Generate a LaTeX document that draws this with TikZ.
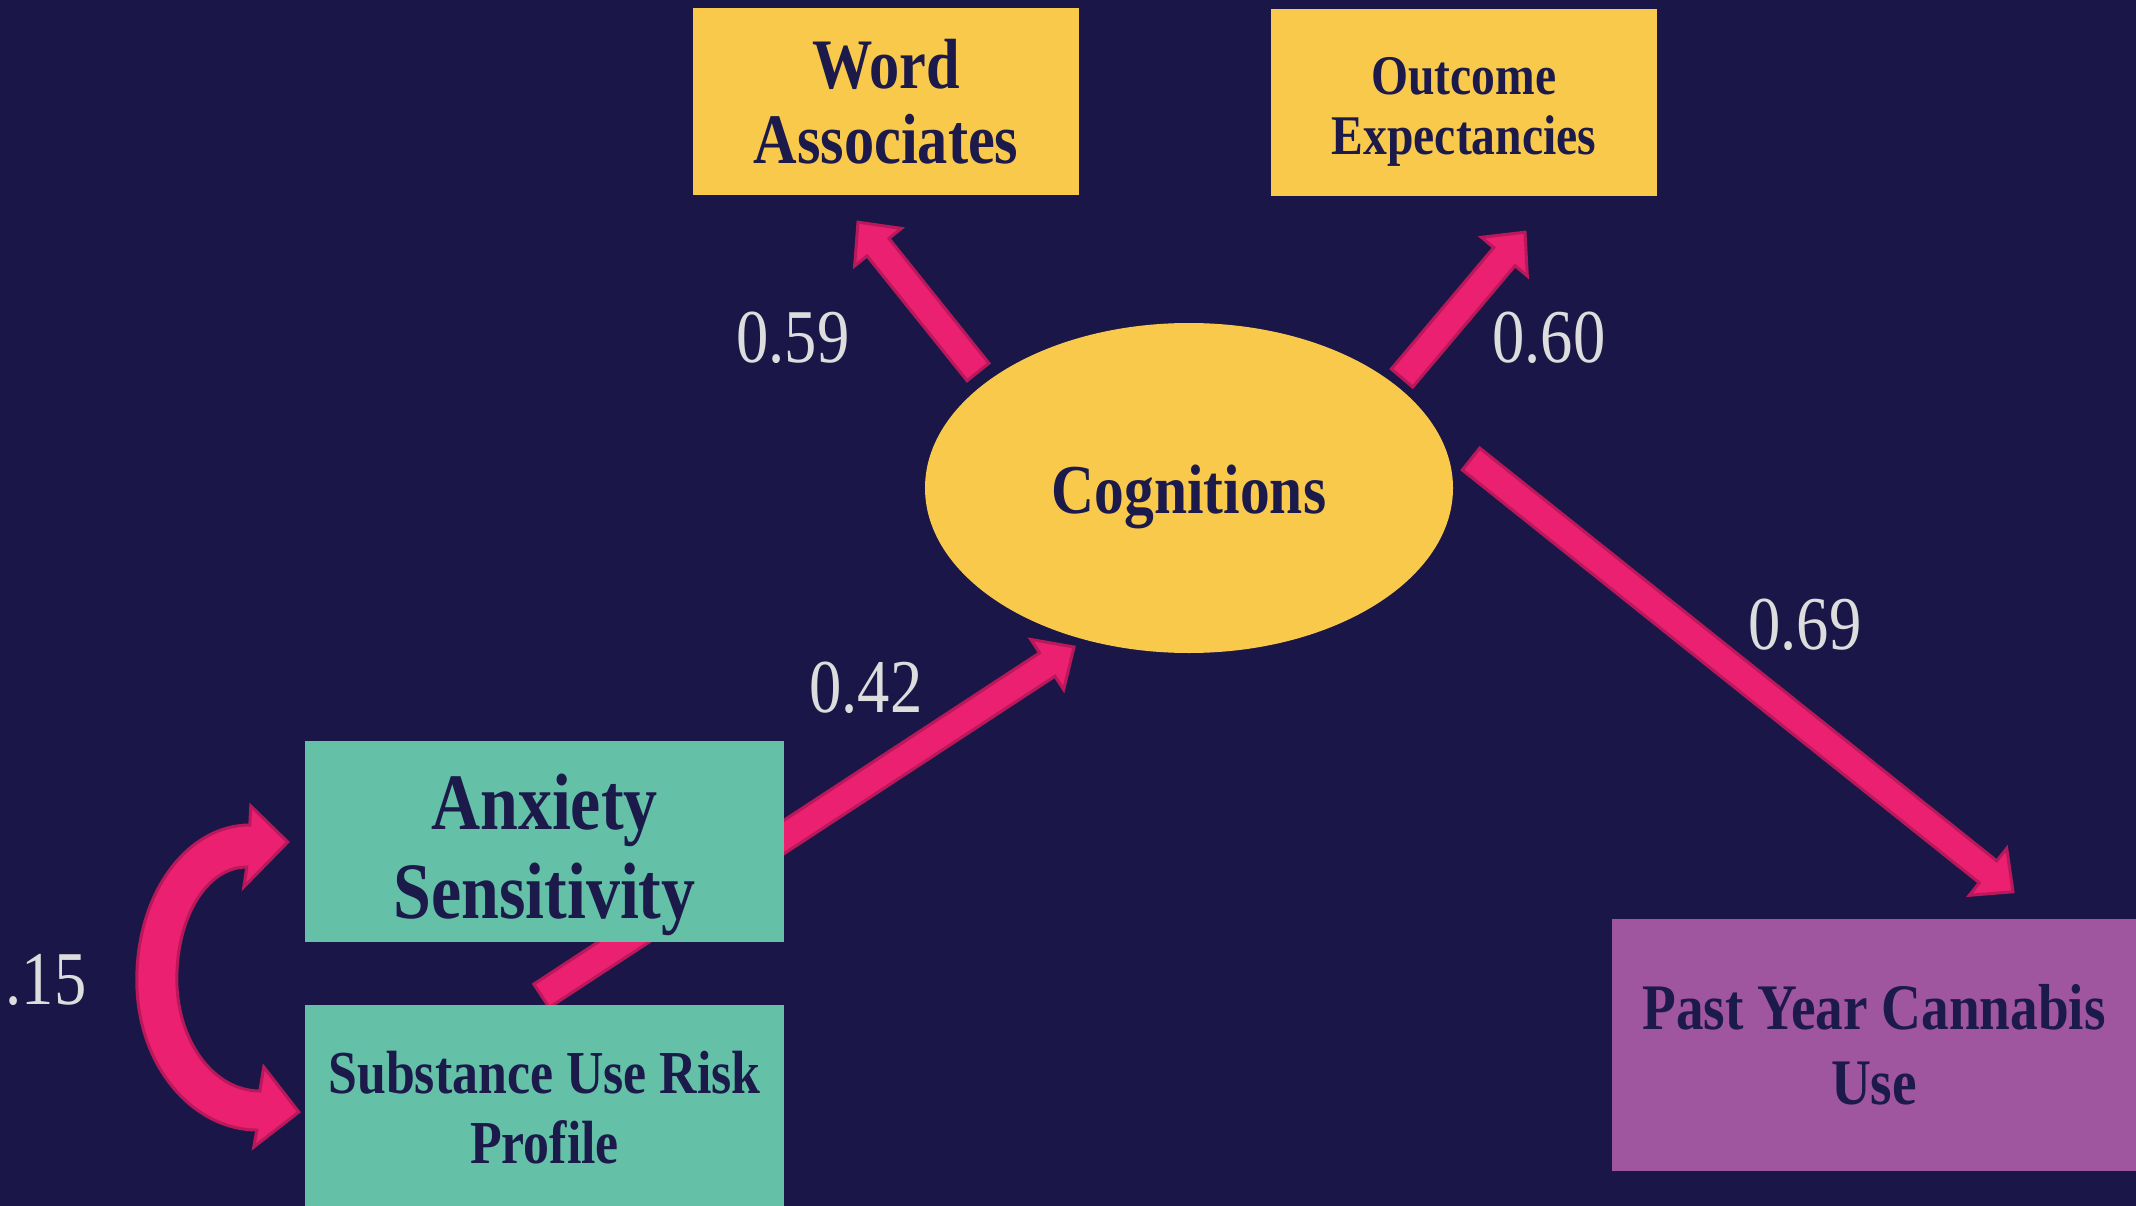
\documentclass[tikz,border=0pt]{standalone}
\usepackage{fontspec}
\setmainfont{Liberation Serif}[FakeStretch=0.85]
\usetikzlibrary{calc,shapes.geometric}
\definecolor{bgnavy}{HTML}{1A1748}
\definecolor{gold}{HTML}{F9C94C}
\definecolor{boxteal}{HTML}{64C1A8}
\definecolor{boxpurple}{HTML}{A0559F}
\definecolor{arrowpink}{HTML}{EB2071}
\definecolor{arrowedge}{HTML}{B9185A}
\definecolor{inknavy}{HTML}{1B1A4A}
\definecolor{numgray}{HTML}{DDDDDD}
\pgfdeclarelayer{bglayer}
\pgfdeclarelayer{arrowlayer}
\pgfsetlayers{bglayer,arrowlayer,main}
\tikzset{
  box/.style={rectangle, inner sep=0pt, text=inknavy, align=center},
  fatarrow/.style={fill=arrowpink, draw=arrowedge, line width=3pt, line join=miter},
  num/.style={text=numgray, inner sep=0pt, font=\fontsize{76}{76}\selectfont},
}
\newcommand\fatarrow[2]{%
  \coordinate (fa-h) at ($(#2)!32pt!(#1)$);
  \filldraw[fatarrow] ($(#1)!14pt!90:(#2)$) -- ($(fa-h)!14pt!90:(#2)$)
    -- ($(fa-h)!30pt!90:(#2)$) -- (#2) -- ($(fa-h)!30pt!-90:(#2)$)
    -- ($(fa-h)!14pt!-90:(#2)$) -- ($(#1)!14pt!-90:(#2)$) -- cycle;}
\begin{document}
\begin{tikzpicture}[x=1pt, y=-1pt]
\begin{pgfonlayer}{bglayer}
  \fill[bgnavy] (0,0) rectangle (2136,1206);
\end{pgfonlayer}
\useasboundingbox (0,0) rectangle (2136,1206);

% nodes
\node[box, fill=gold, minimum width=386, minimum height=187,
  font=\fontsize{71}{75}\selectfont\bfseries] (word) at (886,101.5) {Word\\Associates};
\node[box, fill=gold, minimum width=386, minimum height=187,
  font=\fontsize{56}{60}\selectfont\bfseries] (outc) at (1464,102.5) {\rule{0pt}{56pt}Outcome\\Expectancies};
\node[ellipse, fill=gold, inner sep=0pt, minimum width=528, minimum height=330,
  text=inknavy, font=\fontsize{70}{70}\selectfont\bfseries] (cog) at (1189,488) {\rule{0pt}{66pt}Cognitions};
\node[box, fill=boxteal, minimum width=479, minimum height=201,
  font=\fontsize{80}{89}\selectfont\bfseries] (anx) at (544.5,841.5) {\rule{0pt}{82pt}Anxiety\\Sensitivity};
\node[box, fill=boxteal, minimum width=479, minimum height=201,
  font=\fontsize{61}{70}\selectfont\bfseries] (sub) at (544.5,1105.5) {\rule{0pt}{46pt}Substance Use Risk\\Profile};
\node[box, fill=boxpurple, minimum width=524, minimum height=252,
  font=\fontsize{65}{75}\selectfont\bfseries] (past) at (1874,1045) {Past Year Cannabis\\Use};

% arrows
\begin{pgfonlayer}{arrowlayer}
  \coordinate (t59) at ($(cog.center)+(-211,-116)$);
  \coordinate (h59) at ($(word.south)+(-28,27)$);
  \fatarrow{t59}{h59}
  \coordinate (t60) at ($(cog.center)+(213,-110)$);
  \coordinate (h60) at ($(outc.south)+(61,36)$);
  \fatarrow{t60}{h60}
  \coordinate (t69) at ($(cog.center)+(282,-29)$);
  \coordinate (h69) at ($(past.north)+(139,-27)$);
  \fatarrow{t69}{h69}
  \coordinate (t42) at ($(sub.north)+(-3,-9)$);
  \coordinate (h42) at ($(cog.center)+(-115,159)$);
  \fatarrow{t42}{h42}
  % curved double arrow between anx and sub
  \coordinate (ct) at ($(anx.west)+(-17,0.5)$);
  \coordinate (cb) at ($(sub.west)+(-6,6.5)$);
  \filldraw[fatarrow]
    ($(ct)+(-38,-17)$)
    .. controls ($(ct)+(-100,-17)$) and ($(ct)+(-151,50)$) .. ($(ct)+(-151,138)$)
    .. controls ($(cb)+(-162,-44)$) and ($(cb)+(-104,18)$) .. ($(cb)+(-42,18)$)
    -- ($(cb)+(-45,35)$) -- (cb) -- ($(cb)+(-35,-45)$) -- ($(cb)+(-39,-21)$)
    .. controls ($(cb)+(-85,-21)$) and ($(cb)+(-122,-71)$) .. ($(ct)+(-111,137)$)
    .. controls ($(ct)+(-111,75)$) and ($(ct)+(-81,25)$) .. ($(ct)+(-41,25)$)
    -- ($(ct)+(-44,45)$) -- (ct) -- ($(ct)+(-37,-36)$) -- cycle;
\end{pgfonlayer}

% labels
\node[num] (n59) at (793,338) {0.59};
\node[num] (n60) at (1549,338) {0.60};
\node[num] (n42) at (866,688) {0.42};
\node[num] (n69) at (1805,625) {0.69};
\node[num] (n15) at (46,980) {.15};
\end{tikzpicture}
\end{document}
